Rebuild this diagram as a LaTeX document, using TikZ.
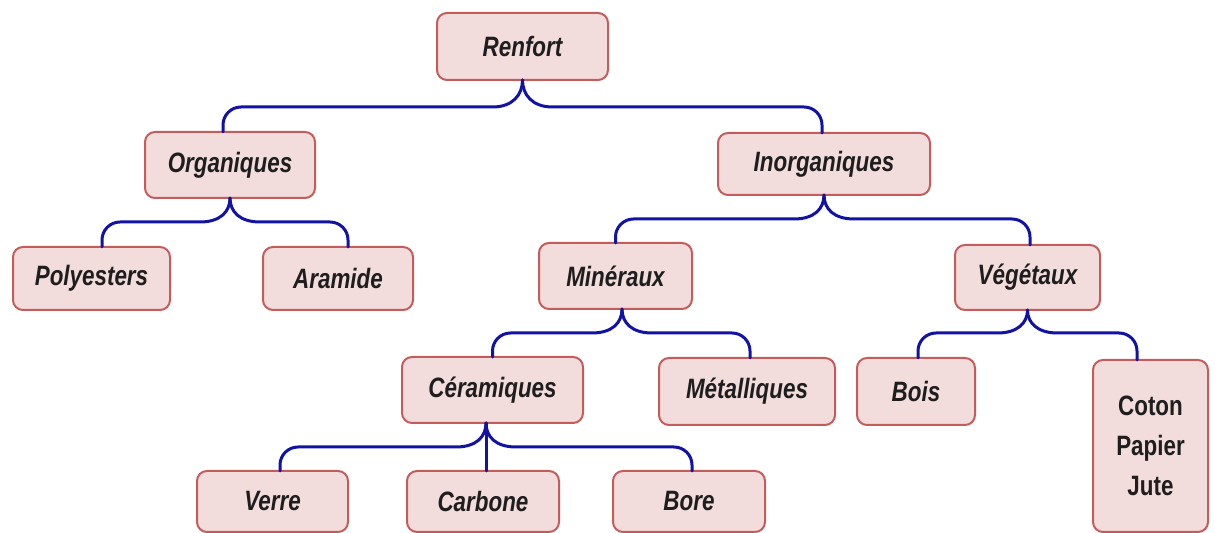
\documentclass[tikz,border=0pt]{standalone}
\usepackage{fontspec}
\setmainfont{Liberation Sans}[FakeStretch=0.8]
\usetikzlibrary{calc}
\definecolor{boxfill}{RGB}{243,221,220}
\definecolor{boxline}{RGB}{196,92,92}
\definecolor{connblue}{RGB}{18,18,165}
\definecolor{txt}{RGB}{30,30,30}
\tikzset{
  box/.style={draw=boxline, fill=boxfill, line width=1pt, rounded corners=5pt,
    inner sep=0pt, outer sep=0pt, text=txt, font=\fontsize{14}{17}\selectfont\bfseries\itshape},
  conn/.style={draw=connblue, line width=1.5pt, line cap=round},
}
\begin{document}
\begin{tikzpicture}[x=0.5pt,y=-0.5pt]
\useasboundingbox (0,0) rectangle (1215,533);
% nodes
\node[box, minimum width=85.5pt, minimum height=33.5pt] (Renfort) at (522.5,46.5) {Renfort};
\node[box, minimum width=85pt, minimum height=33pt] (Organiques) at (230,165) {Organiques};
\node[box, minimum width=106pt, minimum height=31pt] (Inorganiques) at (824,164) {Inorganiques};
\node[box, minimum width=78.5pt, minimum height=31.5pt] (Polyesters) at (91.5,278.5) {Polyesters};
\node[box, minimum width=75pt, minimum height=31.5pt] (Aramide) at (338,278.5) {Aramide};
\node[box, minimum width=76.5pt, minimum height=33pt] (Mineraux) at (615.5,276) {Minéraux};
\node[box, minimum width=72.5pt, minimum height=32.5pt] (Vegetaux) at (1027.5,277.5) {Végétaux};
\node[box, minimum width=90.5pt, minimum height=33pt] (Ceramiques) at (492.5,390) {Céramiques};
\node[box, minimum width=88pt, minimum height=33.5pt] (Metalliques) at (747,391.5) {Métalliques};
\node[box, minimum width=59pt, minimum height=33.5pt] (Bois) at (916,391.5) {Bois};
\node[box, minimum width=57.5pt, minimum height=86pt, align=center,
      font=\fontsize{14}{20}\selectfont\bfseries] (Coton) at (1150.5,446) {Coton\\Papier\\Jute};
\node[box, minimum width=75.5pt, minimum height=30.5pt] (Verre) at (272.5,501.5) {Verre};
\node[box, minimum width=76pt, minimum height=30.5pt] (Carbone) at (483,501.5) {Carbone};
\node[box, minimum width=76pt, minimum height=30.5pt] (Bore) at (689,501.5) {Bore};
% connectors: Renfort
\draw[conn] (Renfort.south) .. controls +(0,15) and +(20,0) .. ++(-30,27)
  [rounded corners=9pt] -| ($(Organiques.north)+(-7,0)$);
\draw[conn] (Renfort.south) .. controls +(0,15) and +(-20,0) .. ++(30,27)
  [rounded corners=9pt] -| ($(Inorganiques.north)+(-2,0)$);
% Organiques
\draw[conn] (Organiques.south) .. controls +(0,14) and +(20,0) .. ++(-30,24)
  [rounded corners=9pt] -| ($(Polyesters.north)+(10.5,0)$);
\draw[conn] (Organiques.south) .. controls +(0,14) and +(-20,0) .. ++(30,24)
  [rounded corners=9pt] -| ($(Aramide.north)+(10,0)$);
% Inorganiques
\draw[conn] (Inorganiques.south) .. controls +(0,14) and +(20,0) .. ++(-30,24)
  [rounded corners=9pt] -| (Mineraux.north);
\draw[conn] (Inorganiques.south) .. controls +(0,14) and +(-20,0) .. ++(30,24)
  [rounded corners=9pt] -| ($(Vegetaux.north)+(2.5,0)$);
% Mineraux
\draw[conn] ($(Mineraux.south)+(6.5,0)$) .. controls +(0,14) and +(20,0) .. ++(-30,24)
  [rounded corners=9pt] -| (Ceramiques.north);
\draw[conn] ($(Mineraux.south)+(6.5,0)$) .. controls +(0,14) and +(-20,0) .. ++(30,24)
  [rounded corners=9pt] -| ($(Metalliques.north)+(3,0)$);
% Vegetaux
\draw[conn] (Vegetaux.south) .. controls +(0,13) and +(20,0) .. ++(-30,23)
  [rounded corners=9pt] -| ($(Bois.north)+(2,0)$);
\draw[conn] (Vegetaux.south) .. controls +(0,13) and +(-20,0) .. ++(30,23)
  [rounded corners=9pt] -| ($(Coton.north)+(-13.5,0)$);
% Ceramiques
\draw[conn] ($(Ceramiques.south)+(-6.5,0)$) .. controls +(0,14) and +(20,0) .. ++(-30,24)
  [rounded corners=9pt] -| ($(Verre.north)+(7.5,0)$);
\draw[conn] ($(Ceramiques.south)+(-6.5,0)$) .. controls +(0,14) and +(-20,0) .. ++(30,24)
  [rounded corners=9pt] -| ($(Bore.north)+(3,0)$);
\draw[conn] ($(Ceramiques.south)+(-6.5,0)$) -- ($(Carbone.north)+(3,0)$);
\end{tikzpicture}
\end{document}
